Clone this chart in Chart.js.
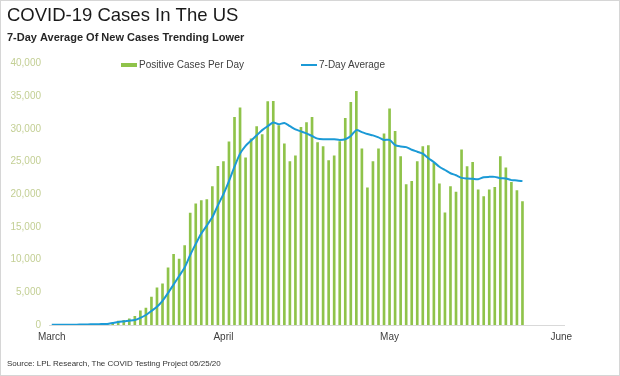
<!DOCTYPE html>
<html>
<head>
<meta charset="utf-8">
<script src="https://cdn.jsdelivr.net/npm/chart.js@4.4.0/dist/chart.umd.min.js"></script>
<style>
  body { margin: 0; background: #fff; }
  #wrap { position: relative; width: 620px; height: 376px; font-family: 'Liberation Sans', Arial, sans-serif; }
  #myChart { position: absolute; left: 0; top: 0; }
  #frame { position: absolute; left: 0; top: 0; width: 620px; height: 376px; box-sizing: border-box; border: 1px solid #d6d6d6; pointer-events: none; }
  .lg { position: absolute; top: 59px; height: 12px; line-height: 12px; font-size: 10px; color: #404040; white-space: nowrap; }
  .lg i { display: inline-block; width: 16px; margin-right: 2px; vertical-align: middle; }
  #source { position: absolute; left: 7px; top: 359px; font-size: 8px; color: #333; white-space: nowrap; }
</style>
</head>
<body>
<div id="wrap">
  <canvas id="myChart" width="620" height="376"></canvas>
  <div id="legend"></div>
  <div id="source">Source: LPL Research, The COVID Testing Project 05/25/20</div>
  <div id="frame"></div>
</div>
<script>
// months shown on the x axis (one category per day, March 1 - June 1)
var months = ['March', 'April', 'May', 'June'];
var monthDays = [31, 30, 31, 1];

// daily new positive cases, March 1 - May 25
var casesPerDay = [
  10, 20, 25, 35, 45, 60, 80, 110, 150, 220,
  300, 350, 650, 760, 1000, 1370, 2200, 2640, 4320, 5750,
  6360, 8810, 10840, 10130, 12200, 17150, 18580, 19090, 19240, 21220,
  24330, 25040, 28050, 31810, 33240, 25600, 28500, 30390, 29170, 34200,
  34250, 30540, 27740, 25040, 25910, 30280, 31000, 31810, 27940, 27330,
  25190, 25910, 28100, 31660, 34100, 35780, 26980, 21030, 25040, 26980,
  29270, 33090, 29680, 25800, 21530, 22030, 25040, 27330, 27490, 24790,
  21640, 17210, 21220, 20360, 26820, 24280, 24940, 20720, 19700, 20720,
  21120, 25800, 24080, 21880, 20610, 18930
];

// 7-day average line
var sevenDayAvg = [
  20, 25, 30, 40, 50, 60, 80, 100, 120, 140,
  150, 300, 450, 550, 650, 760, 1100, 1530, 2150, 2800,
  3700, 4900, 6200, 7500, 8800, 10700, 12400, 14000, 15200, 16500,
  18300, 20000, 22000, 24200, 26200, 27400, 28200, 29000, 29800, 30400,
  30950, 30700, 30900, 30400, 29900, 29600, 29300, 28900, 28500, 28400,
  28400, 28400, 28300, 28400, 28900, 29800, 29500, 29200, 29000, 28700,
  28300, 28300, 27500, 27300, 27200, 26800, 26500, 26200, 25500, 24900,
  24200, 23700, 23200, 22900, 22500, 22400, 22350, 22300, 22600, 22650,
  22650, 22450, 22400, 22150, 22100, 22000
];

var yTicks = { min: 0, max: 40000, step: 5000 };

var labels = [];
months.forEach(function (m, i) {
  for (var d = 1; d <= monthDays[i]; d++) labels.push(m + ' ' + d);
});

Chart.defaults.font.family = "'Liberation Sans', Arial, sans-serif";

var ctx = document.getElementById('myChart').getContext('2d');
var myChart = new Chart(ctx, {
  data: {
    labels: labels,
    datasets: [{
      type: 'line',
      label: '7-Day Average',
      data: sevenDayAvg,
      borderColor: '#1b9ad6',
      backgroundColor: '#1b9ad6',
      borderWidth: 2,
      pointRadius: 0,
      tension: 0.25,
      order: 0
    }, {
      type: 'bar',
      label: 'Positive Cases Per Day',
      data: casesPerDay,
      backgroundColor: '#8fc34a',
      barPercentage: 0.48,
      categoryPercentage: 1,
      order: 1
    }]
  },
  options: {
    responsive: false,
    animation: false,
    layout: { padding: { left: 7, right: 56, top: 0, bottom: 27 } },
    plugins: {
      legend: { display: false },
      tooltip: { enabled: false },
      title: {
        display: true,
        text: 'COVID-19 Cases In The US',
        align: 'start',
        color: '#1a1a1a',
        font: { size: 18.5, weight: 'normal' },
        padding: { top: 5, bottom: 0 }
      },
      subtitle: {
        display: true,
        text: '7-Day Average Of New Cases Trending Lower',
        align: 'start',
        color: '#262626',
        font: { size: 11, weight: 'bold' },
        padding: { top: 4, bottom: 19 }
      }
    },
    scales: {
      x: {
        offset: true,
        grid: { display: false, drawTicks: false },
        border: { display: true, color: '#d9d9d9', width: 1 },
        ticks: {
          autoSkip: false,
          maxRotation: 0,
          padding: 6,
          color: '#404040',
          font: { size: 10 },
          callback: function (value) {
            var l = this.getLabelForValue(value);
            return / 1$/.test(l) ? l.split(' ')[0] : '';
          }
        }
      },
      y: {
        min: yTicks.min,
        max: yTicks.max,
        grid: { display: false, drawTicks: false },
        border: { display: false },
        afterFit: function (scale) { scale.width = 42; },
        ticks: {
          stepSize: yTicks.step,
          padding: 8,
          color: '#c3cf94',
          font: { size: 10 }
        }
      }
    }
  }
});

// legend drawn as html from the datasets
var legendPos = { 'Positive Cases Per Day': 121, '7-Day Average': 301 };
var legend = document.getElementById('legend');
myChart.data.datasets.slice().reverse().forEach(function (ds) {
  var item = document.createElement('div');
  item.className = 'lg';
  item.style.left = legendPos[ds.label] + 'px';
  var sw = document.createElement('i');
  sw.style.height = ds.type === 'line' ? '2px' : '4px';
  sw.style.background = ds.type === 'line' ? ds.borderColor : ds.backgroundColor;
  item.appendChild(sw);
  item.appendChild(document.createTextNode(ds.label));
  legend.appendChild(item);
});
</script>
</body>
</html>
